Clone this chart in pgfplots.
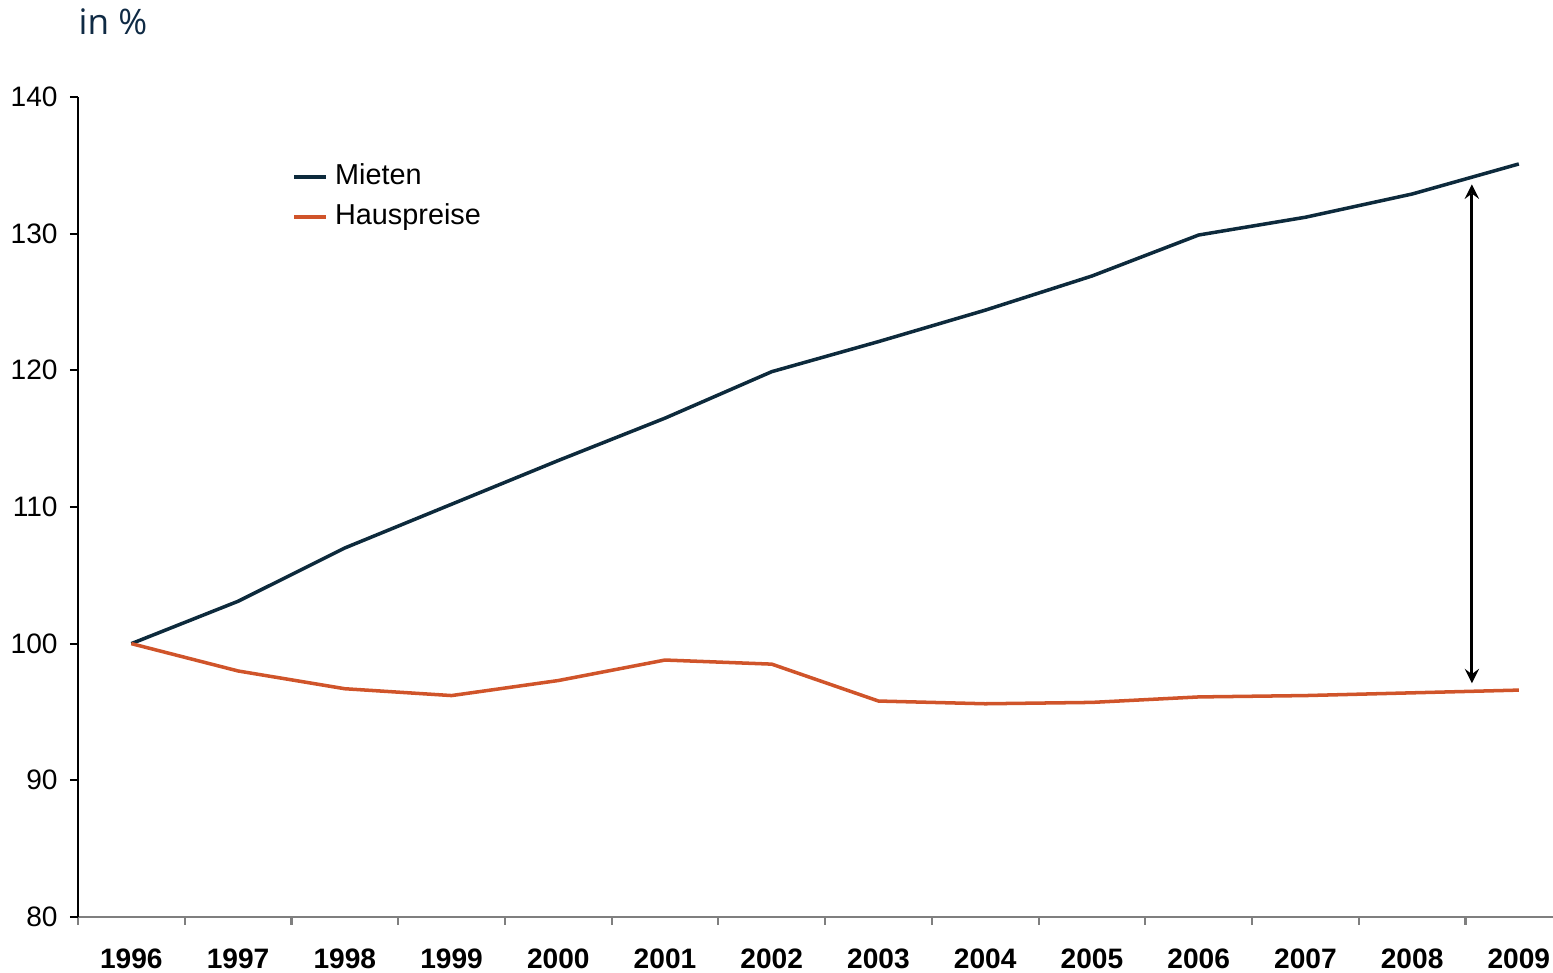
\documentclass[border=0pt]{standalone}
\usepackage{fontspec}
\setmainfont{Liberation Sans}
\newfontfamily\titlefont{Open Sans}
\usepackage{pgfplots}
\pgfplotsset{compat=1.18}
\definecolor{navy}{HTML}{0D2A3C}
\definecolor{orng}{HTML}{D0542A}
\definecolor{titlec}{HTML}{0F2A44}
\definecolor{axgray}{HTML}{7F7F7F}
\begin{document}
\begin{tikzpicture}
\begin{axis}[
  name=ax,
  scale only axis,
  width=14.75cm, height=8.2cm,
  xmin=-0.5, xmax=13.32,
  ymin=80, ymax=140,
  ytick={80,90,...,140},
  xtick={0,...,13},
  xticklabels={1996,1997,1998,1999,2000,2001,2002,2003,2004,2005,2006,2007,2008,2009},
  minor xtick={-0.5,0.5,...,12.5},
  major x tick style={draw=none},
  minor x tick style={axgray, line width=0.6pt},
  minor tick length=0.08cm,
  major tick length=0.08cm,
  tick align=outside,
  y tick style={black, line width=0.6pt},
  axis x line*=bottom,
  axis y line*=left,
  x axis line style={axgray, line width=0.8pt, -},
  y axis line style={black, line width=0.6pt, -},
  xticklabel style={font=\fontsize{8}{9}\selectfont\bfseries, yshift=-0.11cm},
  yticklabel style={font=\fontsize{8}{9}\selectfont, xshift=0.0cm},
  /pgf/number format/assume math mode=true,
  legend style={at={(0.145,0.928)}, anchor=north west, draw=none, fill=none,
    font=\fontsize{8.2}{9.5}\selectfont, row sep=0cm, inner sep=0pt},
  legend cell align=left,
  legend image code/.code={\draw[#1, line width=1pt] (0cm,0cm) -- (0.32cm,0cm);},
  clip=false,
]
\addplot[navy, line width=1pt] coordinates {
 (0,100) (1,103.1) (2,107.0) (3,110.2) (4,113.4) (5,116.5) (6,119.9)
 (7,122.1) (8,124.4) (9,126.9) (10,129.9) (11,131.2) (12,132.9) (13,135.1)};
\addlegendentry{Mieten}
\addplot[orng, line width=1pt] coordinates {
 (0,100) (1,98.0) (2,96.7) (3,96.2) (4,97.3) (5,98.8) (6,98.5)
 (7,95.8) (8,95.6) (9,95.7) (10,96.1) (11,96.2) (12,96.4) (13,96.6)};
\addlegendentry{Hauspreise}
\draw[stealth-stealth, line width=0.8pt] (axis cs:12.56,133.6) -- (axis cs:12.56,97.1);
\end{axis}
\node[anchor=base west, inner sep=0pt, text=titlec, font=\titlefont\fontsize{10}{12}\selectfont] at ([yshift=0.62cm]ax.north west) {in \%};
\pgfresetboundingbox
\path[use as bounding box] ([xshift=-0.78cm,yshift=-0.56cm]ax.south west) rectangle ([yshift=0.97cm]ax.north east);
\end{tikzpicture}
\end{document}
